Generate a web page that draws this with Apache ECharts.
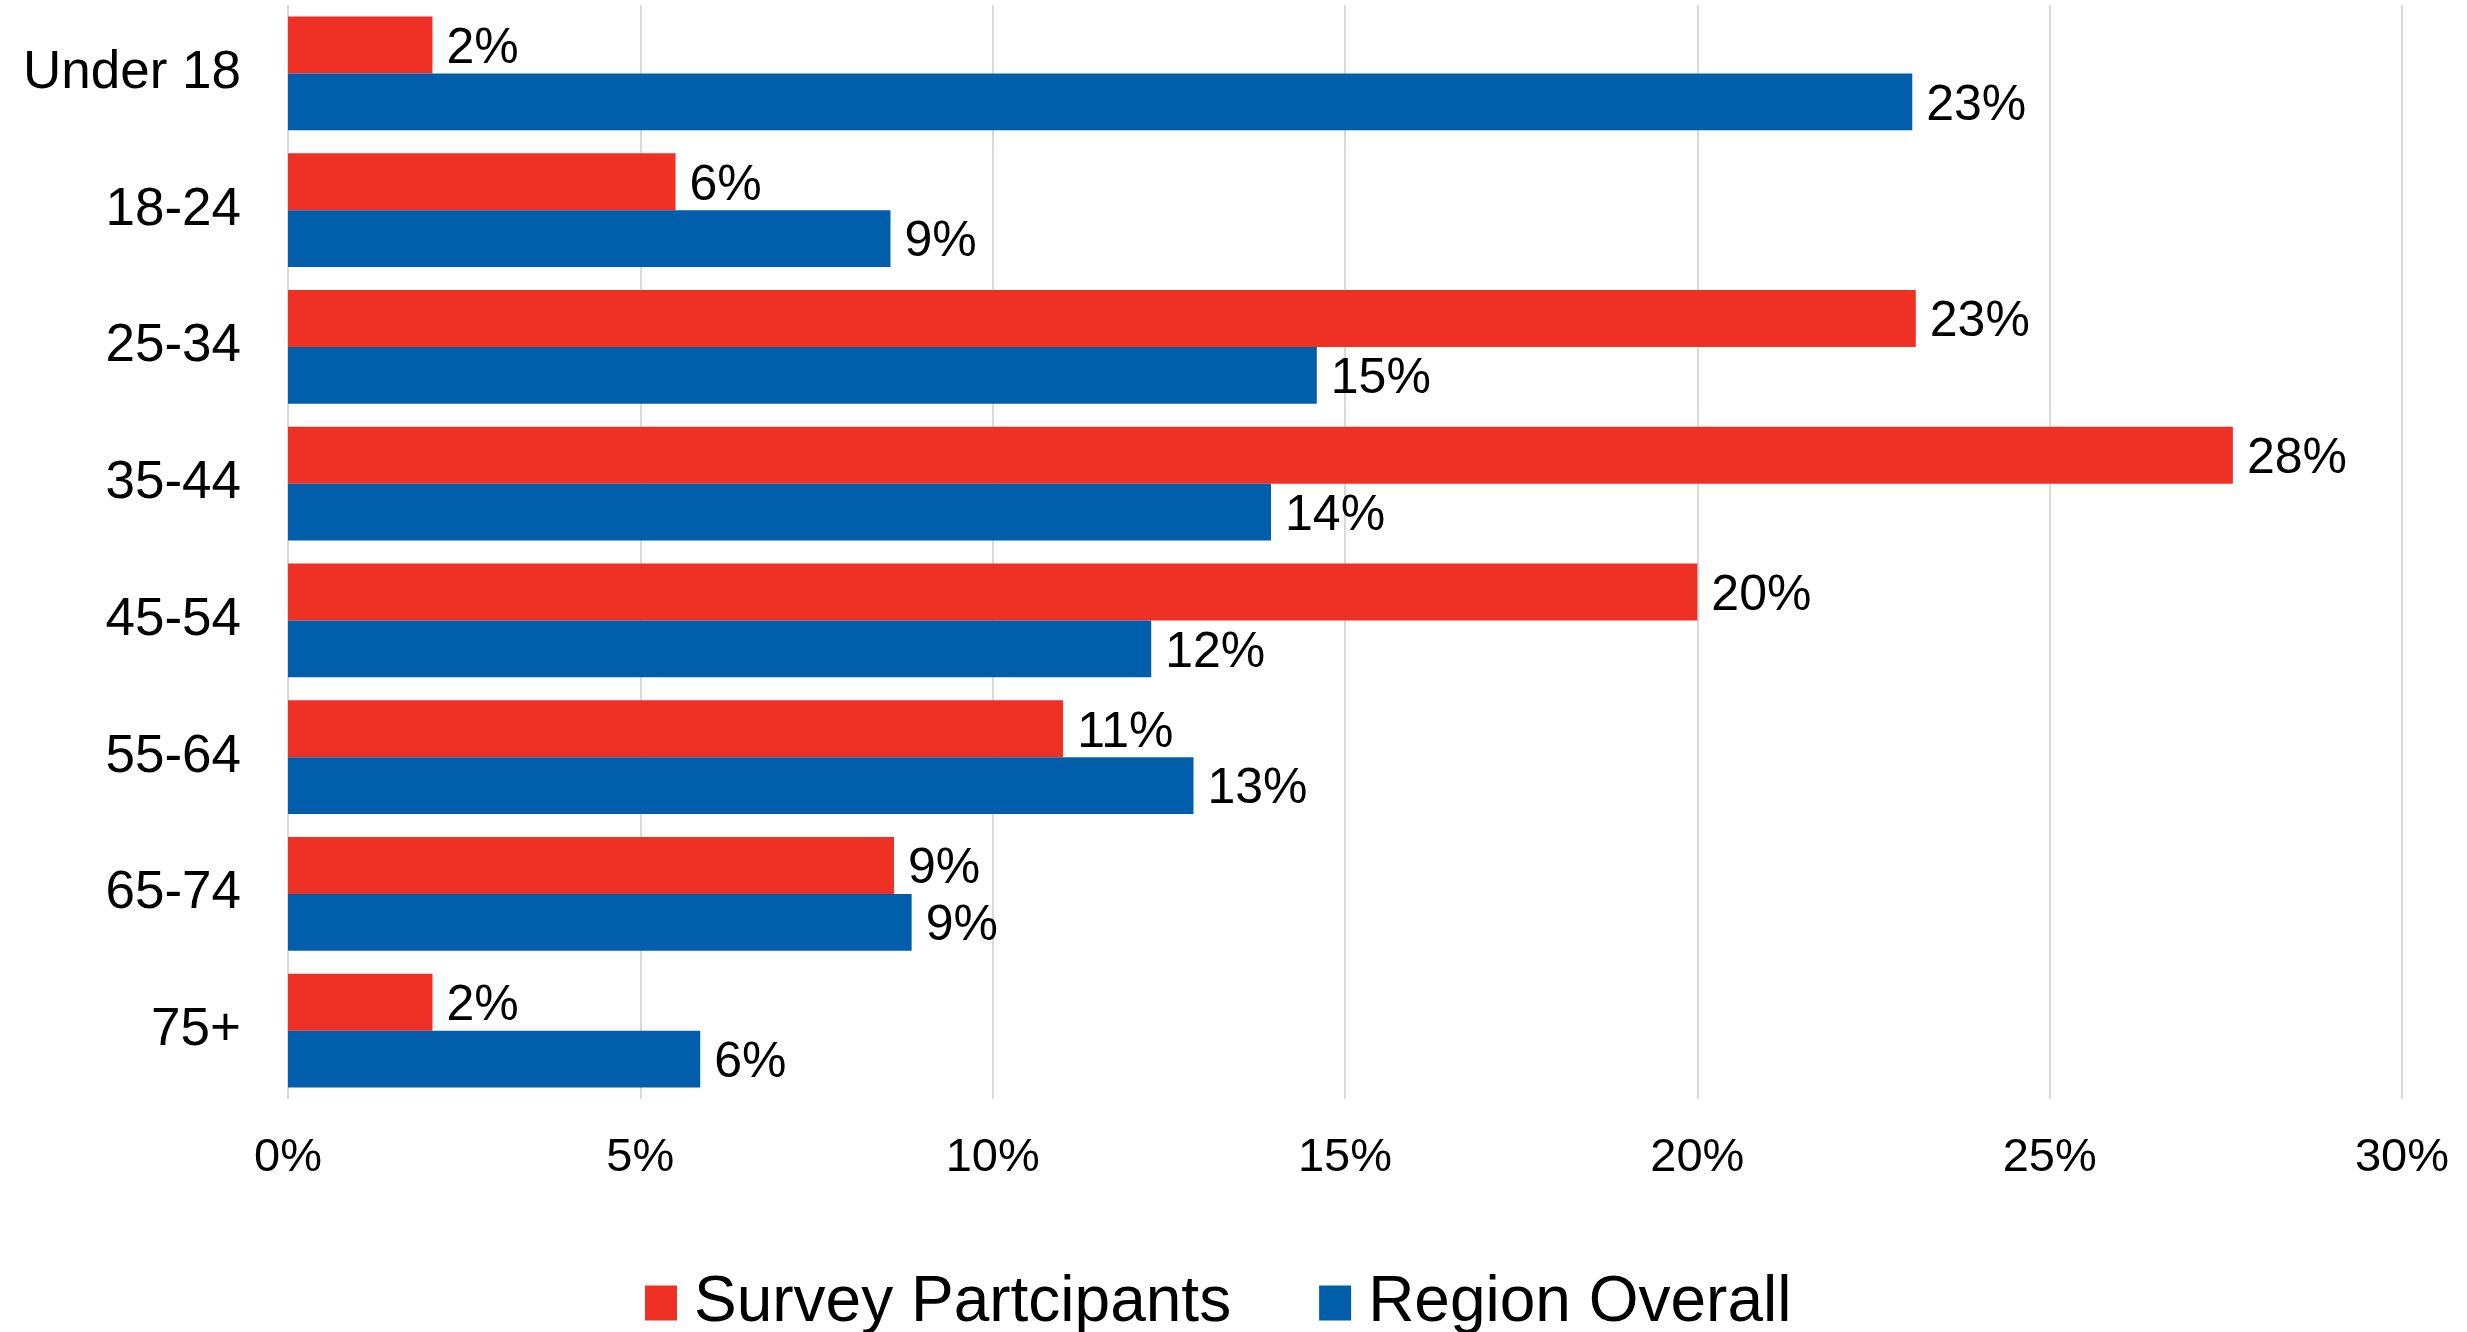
<!DOCTYPE html>
<html>
<head>
<meta charset="utf-8">
<style>
  html, body { margin: 0; padding: 0; background: #ffffff; }
  #chart { width: 2467px; height: 1332px; }
</style>
<script src="https://cdn.jsdelivr.net/npm/echarts@6/dist/echarts.min.js"></script>
</head>
<body>
<div id="chart"></div>
<script>
// Age groups, top to bottom
const ageGroups = ['Under 18', '18-24', '25-34', '35-44', '45-54', '55-64', '65-74', '75+'];
// Share of each age group, in percent
const surveyParticipants = [2.05, 5.5, 23.1, 27.6, 20.0, 11.0, 8.6, 2.05];
const regionOverall = [23.05, 8.55, 14.6, 13.95, 12.25, 12.85, 8.85, 5.85];
// Value axis ticks
const xTicks = [0, 5, 10, 15, 20, 25, 30];

const FONT = '"Liberation Sans", Arial, sans-serif';
const RED = '#EE3124';
const BLUE = '#005EAA';

const chart = echarts.init(document.getElementById('chart'));

const valueLabel = {
  show: true,
  position: 'right',
  distance: 14,
  offset: [0, 4],
  color: '#000000',
  fontFamily: FONT,
  fontSize: 50,
  formatter: p => Math.round(p.value) + '%'
};

chart.setOption({
  animation: false,
  backgroundColor: '#ffffff',
  grid: { left: 288, right: 65, top: 5, bottom: 233, containLabel: false },
  legend: {
    bottom: -8,
    left: 640,
    itemWidth: 32,
    itemHeight: 35,
    itemGap: 88,
    icon: 'rect',
    textStyle: { fontFamily: FONT, fontSize: 64, color: '#000000', padding: [0, 0, 0, 12] },
    data: ['Survey Partcipants', 'Region Overall']
  },
  xAxis: {
    type: 'value',
    min: xTicks[0],
    max: xTicks[xTicks.length - 1],
    interval: 5,
    axisLine: { show: false },
    axisTick: { show: false },
    splitLine: { show: true, lineStyle: { color: '#D9D9D9', width: 2 } },
    axisLabel: {
      fontFamily: FONT,
      fontSize: 47,
      color: '#000000',
      margin: 36,
      formatter: v => v + '%'
    }
  },
  yAxis: {
    type: 'category',
    data: ageGroups,
    inverse: true,
    axisLine: { show: false },
    axisTick: { show: false },
    splitLine: { show: false },
    axisLabel: { fontFamily: FONT, fontSize: 53, color: '#000000', margin: 47, padding: [6, 0, 0, 0] }
  },
  series: [
    {
      name: 'Survey Partcipants',
      type: 'bar',
      data: surveyParticipants,
      itemStyle: { color: RED },
      barGap: '0%',
      barCategoryGap: '17%',
      label: valueLabel
    },
    {
      name: 'Region Overall',
      type: 'bar',
      data: regionOverall,
      itemStyle: { color: BLUE },
      barGap: '0%',
      barCategoryGap: '17%',
      label: valueLabel
    }
  ]
});
</script>
</body>
</html>
